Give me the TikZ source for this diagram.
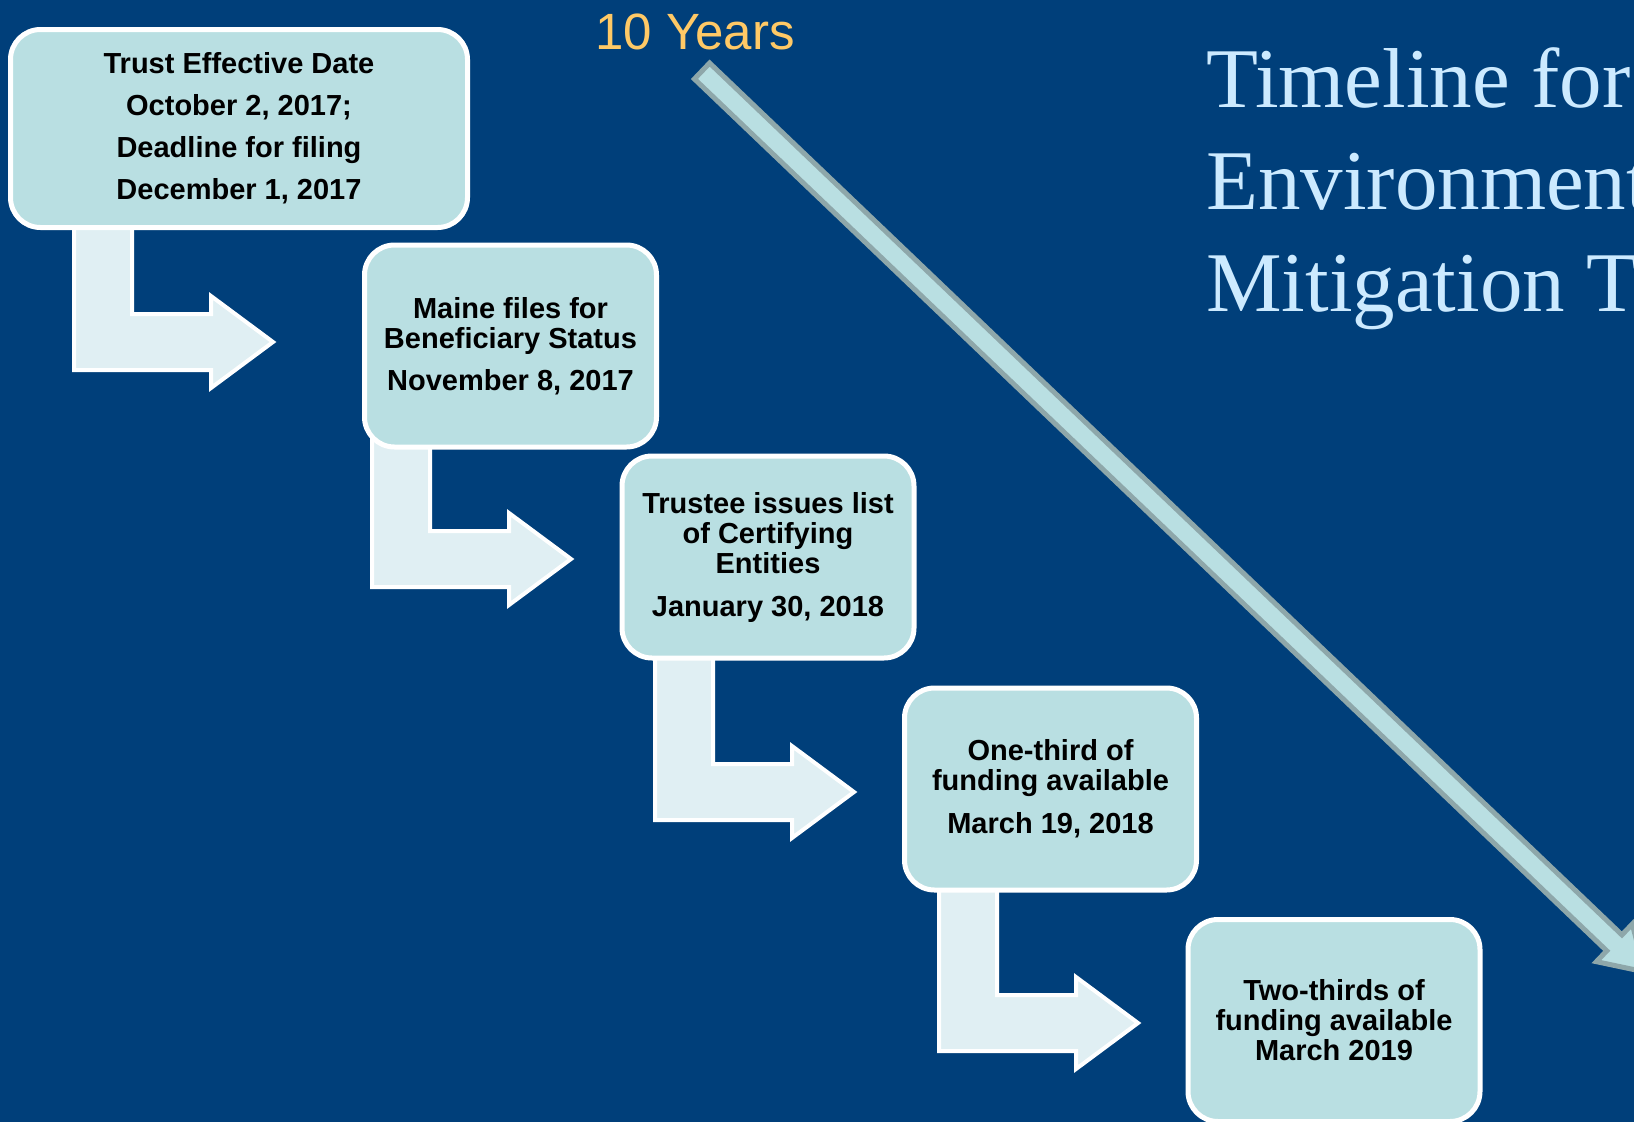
\documentclass[tikz,border=0pt]{standalone}
\usepackage{fontspec}
\newfontfamily\arialf{Liberation Sans}
\newfontfamily\timesf{Liberation Serif}
\definecolor{bgblue}{RGB}{0,63,122}
\definecolor{boxfill}{RGB}{185,223,226}
\definecolor{arrfill}{RGB}{224,239,243}
\definecolor{diagedge}{RGB}{142,167,170}
\definecolor{yrs}{RGB}{255,201,102}
\definecolor{titlec}{RGB}{204,234,255}
\tikzset{
  stepnode/.style={draw=white, line width=5pt, fill=boxfill, rounded corners=30pt,
    align=center, text=black, inner sep=0pt, minimum width=292pt, minimum height=202pt,
    font=\arialf\bfseries\fontsize{29}{30}\selectfont},
  bentarr/.style={draw=white, line width=4pt, fill=arrfill, line join=miter},
  titletext/.style={anchor=base west, inner sep=0pt, text=titlec, font=\timesf\fontsize{85}{102}\selectfont},
}
\newcommand\bentarrow[3]{%
  \draw[bentarr] (#1+2,#2) -- (#1+60,#2) -- (#1+60,#3+2) -- (#1+139,#3+2) -- (#1+139,#3-16)
    -- (#1+201,#3+30) -- (#1+139,#3+76) -- (#1+139,#3+58) -- (#1+2,#3+58) -- cycle;}
\begin{document}
\begin{tikzpicture}[x=1pt,y=-1pt]
\fill[bgblue] (0,0) rectangle (1634,1122);
\useasboundingbox (0,0) rectangle (1634,1122);
\clip (0,0) rectangle (1634,1122);
% bent block arrows
\bentarrow{72}{200}{312}
\bentarrow{370}{400}{529}
\bentarrow{653}{600}{762}
\bentarrow{937}{800}{993}
% diagonal 10-year arrow
\begin{scope}[shift={(702,71)}, rotate=-43.7]
  \draw[draw=diagedge, fill=boxfill, line width=5pt, line join=miter]
    (0,-11) -- (1262,-11) -- (1262,-26) -- (1304,0) -- (1262,26) -- (1262,11) -- (0,11) -- cycle;
\end{scope}
% boxes
\node[stepnode, minimum width=457pt, minimum height=198pt,
  font=\arialf\bfseries\fontsize{29}{42}\selectfont] (b1) at (239,128.5)
  {Trust Effective Date\\October 2, 2017;\\Deadline for filing\\December 1, 2017};
\node[stepnode] (b2) at (510.5,346) {Maine files for\\Beneficiary Status\\[12pt]November 8, 2017};
\node[stepnode] (b3) at (768,557) {Trustee issues list\\of Certifying\\Entities\\[13pt]January 30, 2018};
\node[stepnode] (b4) at (1050.5,789) {One-third of\\funding available\\[13pt]March 19, 2018};
\node[stepnode] (b5) at (1334,1020.5) {Two-thirds of\\funding available\\March 2019};
% labels
\node[anchor=base west, inner sep=0pt, text=yrs, font=\arialf\fontsize{51}{51}\selectfont] (years) at (595,49) {10 Years};
\node[titletext] (t1) at (1206,107) {Timeline for};
\node[titletext] (t2) at (1206,209) {Environment};
\node[titletext] (t3) at (1206,311) {Mitigation T};
\end{tikzpicture}
\end{document}
